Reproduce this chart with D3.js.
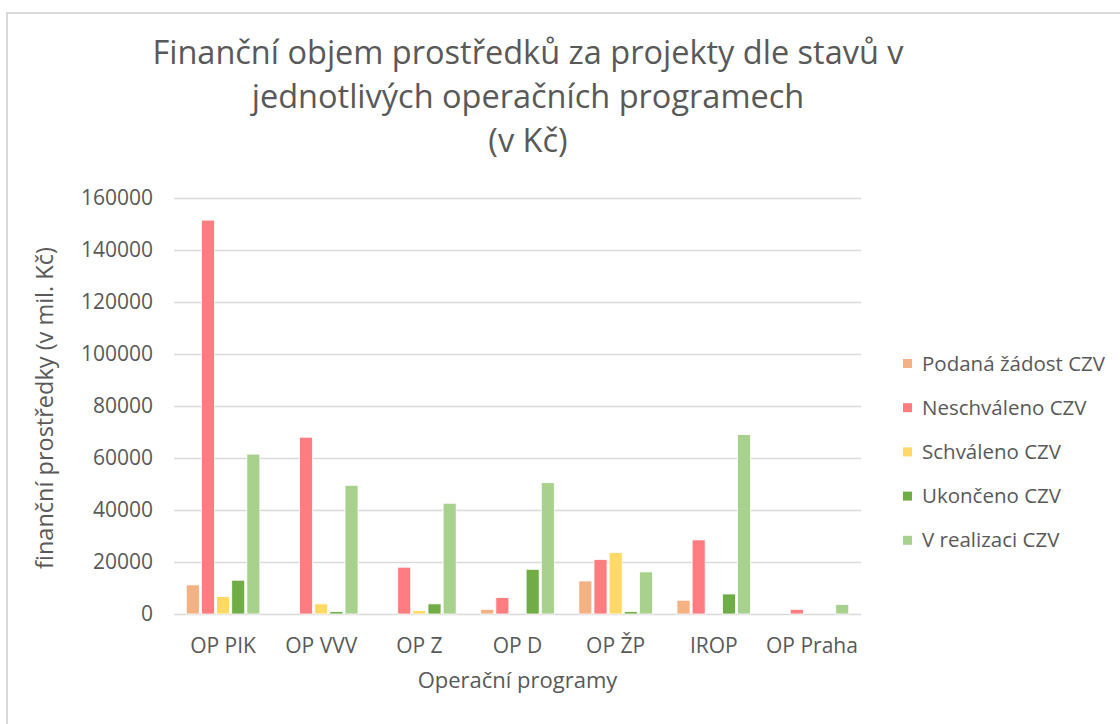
<!DOCTYPE html>
<html>
<head>
<meta charset="utf-8">
<style>
  body { margin: 0; background: #fff; }
  #chart { font-family: 'Open Sans', sans-serif; }
  #chart text { fill: #595959; }
</style>
</head>
<body>
<div id="chart"></div>
<script src="https://d3js.org/d3.v7.min.js"></script>
<script>
  // data (mil. Kč)
  var programs = ["OP PIK", "OP VVV", "OP Z", "OP D", "OP ŽP", "IROP", "OP Praha"];
  var seriesNames = ["Podaná žádost CZV", "Neschváleno CZV", "Schváleno CZV", "Ukončeno CZV", "V realizaci CZV"];
  var podana = [11200, 0, 0, 1800, 12700, 5300, 0];
  var neschvaleno = [151500, 68000, 18000, 6300, 21000, 28500, 1800];
  var schvaleno = [6700, 3900, 1300, 0, 23600, 0, 0];
  var ukonceno = [13000, 900, 3900, 17200, 900, 7700, 0];
  var vRealizaci = [61500, 49500, 42600, 50500, 16200, 69000, 3700];
  var yTicks = [0, 20000, 40000, 60000, 80000, 100000, 120000, 140000, 160000];
  var colors = ["#f4b183", "#ff7c80", "#ffd966", "#70ad47", "#a9d18e"];

  var allSeries = [podana, neschvaleno, schvaleno, ukonceno, vRealizaci];

  var width = 1120, height = 724;
  var margin = {left: 174, right: 259, top: 198, bottom: 110};

  var svg = d3.select("#chart").append("svg")
    .attr("width", width).attr("height", height);

  // outer chart frame
  svg.append("rect")
    .attr("x", 7).attr("y", 13)
    .attr("width", width + 20).attr("height", height + 20)
    .attr("fill", "none").attr("stroke", "#d9d9d9").attr("stroke-width", 2);

  var x = d3.scaleBand()
    .domain(programs)
    .range([margin.left, width - margin.right])
    .paddingInner(0.25).paddingOuter(0.125);

  var x1 = d3.scaleBand()
    .domain(d3.range(seriesNames.length))
    .range([0, x.bandwidth()])
    .paddingInner(0.14);

  var y = d3.scaleLinear()
    .domain([0, 160000])
    .range([614, 198]);

  // gridlines
  svg.append("g").selectAll("line")
    .data(yTicks)
    .enter().append("line")
    .attr("x1", margin.left).attr("x2", width - margin.right)
    .attr("y1", function(d) { return Math.round(y(d)) + 0.5; })
    .attr("y2", function(d) { return Math.round(y(d)) + 0.5; })
    .attr("stroke", "#d9d9d9").attr("stroke-width", 1.5);

  // y axis labels
  var yAxis = d3.axisLeft(y).tickValues(yTicks).tickSize(0).tickPadding(0)
    .tickFormat(d3.format("d"));
  var gy = svg.append("g").attr("transform", "translate(153,0)").call(yAxis);
  gy.select(".domain").remove();
  gy.selectAll("text").attr("font-size", 21).attr("font-family", "'Open Sans', sans-serif");

  // bars
  var groups = svg.append("g").selectAll("g")
    .data(programs)
    .enter().append("g")
    .attr("transform", function(d) { return "translate(" + x(d) + ",0)"; });

  groups.selectAll("rect")
    .data(function(p, i) {
      return allSeries.map(function(s, k) { return {k: k, v: s[i]}; });
    })
    .enter().append("rect")
    .filter(function(d) { return d.v > 0; })
    .attr("x", function(d) { return x1(d.k); })
    .attr("width", x1.bandwidth())
    .attr("y", function(d) { return y(d.v); })
    .attr("height", function(d) { return y(0) - y(d.v); })
    .attr("fill", function(d) { return colors[d.k]; })
    .attr("stroke", "#fff").attr("stroke-width", 0.8);

  // x axis labels
  var xAxis = d3.axisBottom(x).tickSize(0).tickPadding(0);
  var gx = svg.append("g").attr("transform", "translate(0,638)").call(xAxis);
  gx.select(".domain").remove();
  gx.selectAll("text").attr("font-size", 21).attr("font-family", "'Open Sans', sans-serif");

  // axis titles
  svg.append("text")
    .attr("x", (margin.left + width - margin.right) / 2).attr("y", 688)
    .attr("text-anchor", "middle").attr("font-size", 22)
    .text("Operační programy");

  svg.append("text")
    .attr("transform", "translate(53,408) rotate(-90)")
    .attr("text-anchor", "middle").attr("font-size", 23.5)
    .text("finanční prostředky (v mil. Kč)");

  // title
  var titleLines = ["Finanční objem prostředků za projekty dle stavů v", "jednotlivých operačních programech", "(v Kč)"];
  svg.append("g").selectAll("text")
    .data(titleLines)
    .enter().append("text")
    .attr("x", 528)
    .attr("y", function(d, i) { return 64 + i * 44; })
    .attr("text-anchor", "middle").attr("font-size", 32.5)
    .text(function(d) { return d; });

  // legend
  var legend = svg.append("g").selectAll("g")
    .data(seriesNames)
    .enter().append("g")
    .attr("transform", function(d, i) { return "translate(903," + (363.5 + i * 44.2) + ")"; });
  legend.append("rect")
    .attr("x", 0).attr("y", -4.5).attr("width", 9).attr("height", 9)
    .attr("fill", function(d, i) { return colors[i]; });
  legend.append("text")
    .attr("x", 19).attr("dy", "0.35em").attr("font-size", 20.5)
    .text(function(d) { return d; });
</script>
</body>
</html>
